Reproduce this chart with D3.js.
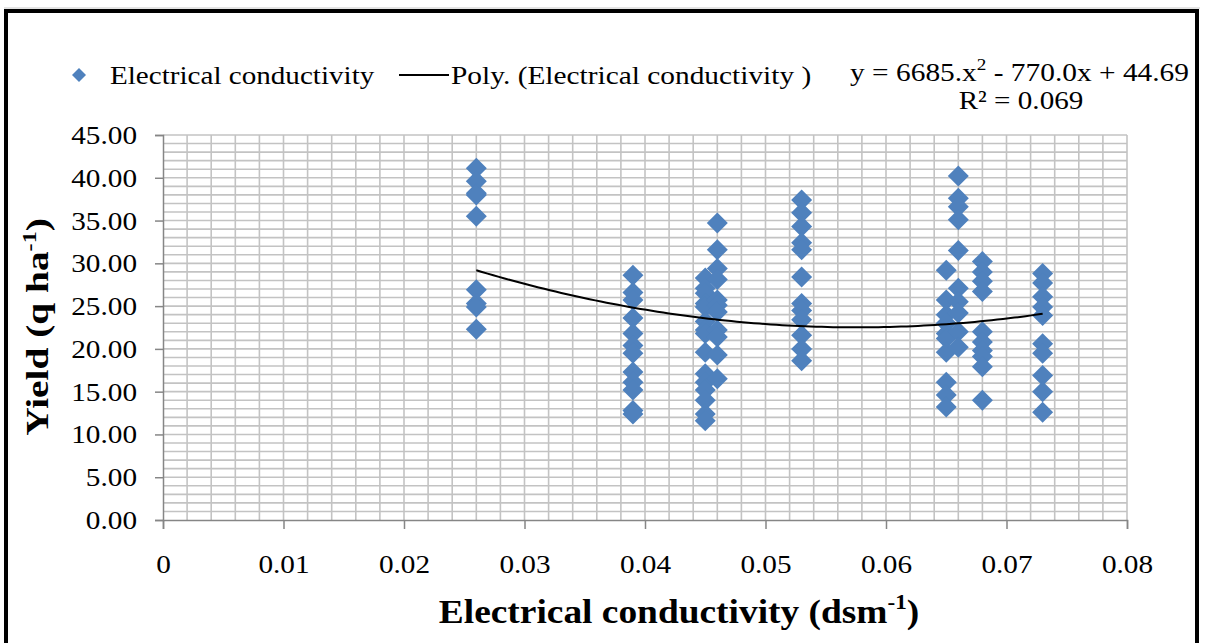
<!DOCTYPE html>
<html><head><meta charset="utf-8">
<script src="https://cdn.jsdelivr.net/npm/d3@7"></script>
<style>body{margin:0;background:#fff}svg{display:block}text{font-family:"Liberation Serif","Times New Roman",serif}</style>
</head><body><svg id="c" width="1207" height="643"></svg>
<script>
// ---- data ----
const ecLevels = [0.026, 0.039, 0.045, 0.046, 0.053, 0.065, 0.066, 0.068, 0.073];
const yields = [
  [41.1, 39.6, 38.2, 38.0, 35.5, 26.9, 25.3, 24.9, 22.3],
  [28.6, 26.6, 25.7, 23.6, 21.8, 20.4, 19.5, 17.3, 16.1, 15.2, 12.8, 12.4],
  [28.3, 27.1, 26.5, 25.3, 24.9, 23.2, 22.2, 21.8, 19.6, 17.1, 16.1, 15.2, 14.0, 12.4, 11.6],
  [34.7, 31.6, 29.4, 28.1, 25.7, 25.1, 24.3, 22.2, 21.4, 19.3, 16.5],
  [37.4, 35.9, 34.3, 32.4, 31.6, 28.4, 25.3, 24.5, 23.4, 21.6, 20.0, 18.6],
  [29.2, 25.7, 24.0, 23.0, 21.8, 21.2, 19.6, 16.1, 14.6, 13.2],
  [40.2, 37.6, 36.6, 35.1, 31.5, 27.1, 25.5, 24.2, 22.0, 20.2],
  [30.2, 29.0, 27.9, 26.7, 22.0, 20.8, 19.8, 19.1, 17.9, 14.0],
  [28.8, 27.7, 26.1, 24.9, 23.9, 20.6, 19.5, 16.9, 15.0, 12.6]
];
const polyCoef = [6685, -770.0, 44.69]; // y = a x^2 + b x + c
const trendRange = [0.026, 0.073];
const xTicks = [0, 0.01, 0.02, 0.03, 0.04, 0.05, 0.06, 0.07, 0.08];
const yTicks = [0, 5, 10, 15, 20, 25, 30, 35, 40, 45];
const seriesName = "Electrical conductivity";
const trendName = "Poly. (Electrical conductivity )";

// ---- chart ----
const svg = d3.select("#c");
const L = 163, R = 1127, T = 135, B = 520;
const x = d3.scaleLinear().domain([0, 0.08]).range([L, R]);
const y = d3.scaleLinear().domain([0, 45]).range([B, T]);

function stretch(sel, sx) {
  sel.each(function () {
    const t = d3.select(this);
    const x0 = +t.attr("x") || 0;
    t.attr("x", x0 / sx).attr("transform", `scale(${sx},1)`);
  });
}

// frame
svg.append("rect").attr("x", 0).attr("y", 0).attr("width", 1207).attr("height", 643).attr("fill", "#fff");
svg.append("line").attr("x1", 4).attr("x2", 1200).attr("y1", 8).attr("y2", 8).attr("stroke", "#c8c8c8").attr("stroke-width", 1);
svg.append("rect").attr("x", 6).attr("y", 11).attr("width", 1191).attr("height", 660)
  .attr("fill", "none").attr("stroke", "#000").attr("stroke-width", 4);

// grid
const g = svg.append("g");
const hMinor = d3.range(1, 46);
g.selectAll(".hg").data(hMinor).join("line")
  .attr("x1", L).attr("x2", R).attr("y1", d => y(d)).attr("y2", d => y(d))
  .attr("stroke", "#c3c3c3").attr("stroke-width", 1.6);
const vMinor = d3.range(1, 41).map(i => i * 0.002);
g.selectAll(".vg").data(vMinor).join("line")
  .attr("x1", d => x(d)).attr("x2", d => x(d)).attr("y1", T).attr("y2", B)
  .attr("stroke", "#c3c3c3").attr("stroke-width", 1.6);

// axes
const xAxis = d3.axisBottom(x).tickValues(xTicks).tickFormat(d => d === 0 ? "0" : d3.format(".2f")(d)).tickSize(9).tickPadding(26);
const yAxis = d3.axisLeft(y).tickValues(yTicks).tickFormat(d3.format(".2f")).tickSize(8).tickPadding(18);
const gx = svg.append("g").attr("transform", `translate(0,${B})`).call(xAxis);
const gy = svg.append("g").attr("transform", `translate(${L},0)`).call(yAxis);
[gx, gy].forEach(a => {
  a.selectAll("path,line").attr("stroke", "#868686").attr("stroke-width", 1.5);
  a.selectAll("text").attr("font-family", "Liberation Serif").attr("font-size", 25).attr("fill", "#000");
  stretch(a.selectAll("text"), 1.17);
});
gy.selectAll("text").attr("dy", "0.34em");

// points
const pts = [];
ecLevels.forEach((ec, i) => yields[i].forEach(v => pts.push([ec, v])));
const dsz = 10.5;
const diamond = `M0,${-dsz}L${dsz},0L0,${dsz}L${-dsz},0Z`;
svg.append("g").selectAll("path").data(pts).join("path")
  .attr("d", diamond).attr("transform", d => `translate(${x(d[0])},${y(d[1])})`)
  .attr("fill", "#4f81bd");

// trend line
const poly = t => polyCoef[0] * t * t + polyCoef[1] * t + polyCoef[2];
const tx = d3.range(0, 101).map(i => trendRange[0] + (trendRange[1] - trendRange[0]) * i / 100);
svg.append("path").datum(tx)
  .attr("d", d3.line().x(d => x(d)).y(d => y(poly(d))))
  .attr("fill", "none").attr("stroke", "#000").attr("stroke-width", 2);

// legend
svg.append("path").attr("d", `M0,-7L7,0L0,7L-7,0Z`).attr("transform", "translate(79,75)").attr("fill", "#4f81bd");
const lt1 = svg.append("text").attr("x", 110).attr("y", 84).attr("font-size", 26).text(seriesName);
svg.append("line").attr("x1", 399).attr("x2", 449).attr("y1", 75).attr("y2", 75).attr("stroke", "#000").attr("stroke-width", 2);
const lt2 = svg.append("text").attr("x", 451).attr("y", 84).attr("font-size", 26).text(trendName);
stretch(lt1, 1.12);
stretch(lt2, 1.13);

// equation
const eq = svg.append("text").attr("x", 1189).attr("y", 81).attr("font-size", 26).attr("text-anchor", "end");
eq.append("tspan").text("y = 6685.x");
eq.append("tspan").attr("font-size", 17).attr("dy", -11).text("2");
eq.append("tspan").attr("dy", 11).text(" - 770.0x + 44.69");
stretch(eq, 1.13);
const r2 = svg.append("text").attr("x", 1021).attr("y", 109).attr("font-size", 26).attr("text-anchor", "middle").text("R² = 0.069");
stretch(r2, 1.12);

// axis titles
const xt = svg.append("text").attr("x", 679).attr("y", 623).attr("font-size", 34).attr("font-weight", "bold").attr("text-anchor", "middle");
xt.append("tspan").text("Electrical conductivity (dsm");
xt.append("tspan").attr("font-size", 21).attr("dy", -14).text("-1");
xt.append("tspan").attr("dy", 14).text(")");
stretch(xt, 1.1);
const yt = svg.append("text").attr("transform", "translate(48,327) rotate(-90) scale(1.27,1)").attr("font-size", 31).attr("font-weight", "bold").attr("text-anchor", "middle");
yt.append("tspan").text("Yield (q ha");
yt.append("tspan").attr("font-size", 19).attr("dy", -12).text("-1");
yt.append("tspan").attr("dy", 12).text(")");
</script></body></html>
